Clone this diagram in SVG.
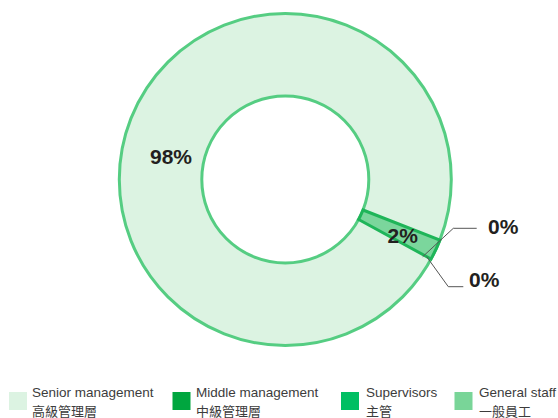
<svg xmlns="http://www.w3.org/2000/svg" width="558" height="418" viewBox="0 0 558 418">
<style>
.pct{font-family:"Liberation Sans",Arial,sans-serif;font-weight:bold;font-size:21px;fill:#231f20}
.lg{font-family:"Liberation Sans",Arial,"Noto Sans CJK TC",sans-serif;font-size:13.5px;fill:#3c3c3c}
.lgc{font-family:"Noto Sans CJK TC","Liberation Sans",sans-serif;font-size:13px;fill:#3c3c3c}
.lead{fill:none;stroke:#555555;stroke-width:1}
</style>
<rect width="558" height="418" fill="#ffffff"/>
<g id="chart">
<g id="slice-senior">
<path d="M285.3 13.5 A166 166 0 1 1 285.3 345.5 A166 166 0 1 1 285.3 13.5 Z M285.3 96 A83.5 83.5 0 1 0 285.3 263 A83.5 83.5 0 1 0 285.3 96 Z" fill="#dcf3e2" fill-rule="evenodd" stroke="#55cd82" stroke-width="3"/>
</g>
<g id="slice-general">
<path d="M363.0 210.0 L439.9 240.1 A166 166 0 0 1 431.0 259.0 L358.6 219.5 A83.5 83.5 0 0 0 363.0 210.0 Z" fill="#7bd69c" stroke="#1fb559" stroke-width="3" stroke-linejoin="miter"/>
</g>
</g>
<g id="connectors">
<polyline class="lead" points="422.7,256.7 453.3,228.3 476.7,228.3"/>
<polyline class="lead" points="426.7,256.7 448.3,286.7 463.3,286.7"/>
</g>
<g id="labels">
<text class="pct" x="150" y="163.5">98%</text>
<text class="pct" x="387.5" y="242.7">2%</text>
<text class="pct" x="488" y="234">0%</text>
<text class="pct" x="469" y="287.3">0%</text>
</g>
<g id="legend">
<g id="legend-senior">
<rect x="9" y="392" width="18" height="18" fill="#dcf3e2"/>
<text class="lg" x="32" y="397">Senior management</text>
<text class="lgc" x="32" y="415.5">高級管理層</text>
</g>
<g id="legend-middle">
<rect x="172.5" y="392" width="18" height="18" fill="#00a63f"/>
<text class="lg" x="196" y="397">Middle management</text>
<text class="lgc" x="196" y="415.5">中級管理層</text>
</g>
<g id="legend-supervisors">
<rect x="341" y="392" width="18" height="18" fill="#00bf63"/>
<text class="lg" x="366" y="397">Supervisors</text>
<text class="lgc" x="366" y="415.5">主管</text>
</g>
<g id="legend-general">
<rect x="454.5" y="392" width="18" height="18" fill="#79d598"/>
<text class="lg" x="479" y="397">General staff</text>
<text class="lgc" x="479" y="415.5">一般員工</text>
</g>
</g>
</svg>
